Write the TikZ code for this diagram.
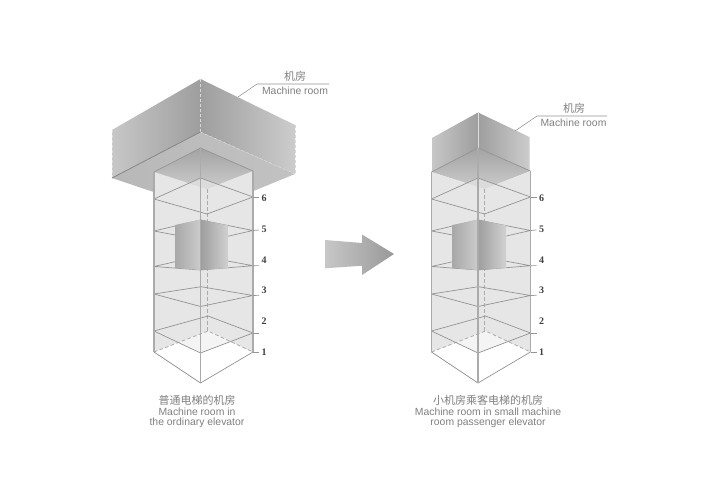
\documentclass[tikz,border=0pt]{standalone}
\usepackage{fontspec}
\setmainfont{Liberation Sans}
\newfontfamily\cjk{Noto Sans CJK SC}
\newfontfamily\numfont{Liberation Serif}
\definecolor{shaftfill}{HTML}{E6E6E6}
\definecolor{floorlow}{HTML}{F4F4F4}
\definecolor{edgeline}{HTML}{949494}
\definecolor{postline}{HTML}{ABABAB}
\definecolor{dashline}{HTML}{ABABAB}
\definecolor{captext}{HTML}{808080}
\tikzset{
  floorline/.style={draw=edgeline,line width=.7pt,line join=round},
  postedge/.style={draw=postline,line width=1.2pt},
  hiddenedge/.style={draw=dashline,line width=.8pt,dash pattern=on 3.5pt off 2.5pt},
  roomdash/.style={draw=white!70!gray,line width=.6pt,dash pattern=on 3pt off 2pt},
  leaderline/.style={draw=gray!85,line width=.55pt},
  floornum/.style={font=\numfont\bfseries\fontsize{10}{10}\selectfont,text=black!75,inner sep=0pt},
  captioncn/.style={font=\cjk\fontsize{11}{12}\selectfont,text=captext,inner sep=0pt},
  captionen/.style={font=\fontsize{10.4}{12}\selectfont,text=captext,inner sep=0pt},
}
\newcommand{\shaftunit}[2]{%
\begin{scope}[shift={(#2,0)}]
  % outline points
  \coordinate (#1tl) at (154,172); \coordinate (#1tt) at (200.5,148);
  \coordinate (#1tr) at (253,171); \coordinate (#1hf) at (207,189);
  \coordinate (#1bl) at (154,352); \coordinate (#1bf) at (200.5,383);
  \coordinate (#1br) at (253,352); \coordinate (#1bb) at (208,331);
  % fills
  \path[top color=black!36,bottom color=black!20] (#1tl) -- (#1tt) -- (#1tr) -- (#1hf) -- cycle;
  \fill[black!14] (189,183.2) -- (200.5,178) -- (218.4,184.5) -- (#1hf) -- cycle;
  \fill[shaftfill] (#1tl) -- (#1hf) -- (#1tr) -- (#1br) -- (#1bb) -- (#1bl) -- cycle;
  \fill[floorlow] (#1bb) -- (230.5,341.5) -- (200.5,353) -- (178,342.6) -- cycle;
  % hidden edges
  \draw[hiddenedge] (207,189) -- (207,331);
  \draw[hiddenedge] (#1bl) -- (#1bb) -- (#1br);
  % floors
  \draw[floorline] (#1tl) -- (#1tt) -- (#1tr);
  \draw[floorline] (154,199) -- (200.5,178) -- (253,197) -- (207,214) -- cycle;
  \draw[floorline] (154,231) -- (200.5,220) -- (253,230.5) -- (207,241) -- cycle;
  \draw[floorline] (154,266.5) -- (200.5,256) -- (253,265.7) -- (200.5,270) -- cycle;
  \draw[floorline] (154,294) -- (201,286.7) -- (253,295.5) -- (200.5,306.5) -- cycle;
  \draw[floorline] (154,331) -- (208,316) -- (253,333) -- (200.5,353) -- cycle;
  \draw[floorline] (#1bl) -- (#1bf) -- (#1br);
  % car
  \path[left color=black!34,right color=black!20] (175,225) -- (200.5,219.5) -- (200.5,270) -- (175,268) -- cycle;
  \path[left color=black!38,right color=black!18] (200.5,219.5) -- (228.5,225.5) -- (228.5,268) -- (200.5,270) -- cycle;
  % posts
  \draw[postedge] (#1tl) -- (#1bl);
  \draw[postedge] (#1tr) -- (#1br);
  \draw[postedge] (#1tt) -- (#1bf);
  % floor numbers
  \node[floornum] (#1n1) at (264,352) {1};
  \node[floornum] (#1n2) at (264,321) {2};
  \node[floornum] (#1n3) at (264,290.5) {3};
  \node[floornum] (#1n4) at (264,260) {4};
  \node[floornum] (#1n5) at (264,229) {5};
  \node[floornum] (#1n6) at (264,198) {6};
  \coordinate (#1e1) at (259,352);
  \coordinate (#1e2) at (259,333);
  \coordinate (#1e3) at (259,295.3);
  \coordinate (#1e4) at (259,265.6);
  \coordinate (#1e5) at (259,230);
  \coordinate (#1e6) at (259,197);
  \coordinate (#1f2) at (253,333);
  \coordinate (#1f3) at (253,295.5);
  \coordinate (#1f4) at (253,265.7);
  \coordinate (#1f5) at (253,230.5);
  \coordinate (#1f6) at (253,197);
  \draw[floorline] (#1br) -- (#1e1);
  \draw[floorline] (#1f2) -- (#1e2);
  \draw[floorline] (#1f3) -- (#1e3);
  \draw[floorline] (#1f4) -- (#1e4);
  \draw[floorline] (#1f5) -- (#1e5);
  \draw[floorline] (#1f6) -- (#1e6);
\end{scope}}
\begin{document}
\begin{tikzpicture}[x=1pt,y=-1pt]
\useasboundingbox (0,0) rectangle (720,500);
\fill[white] (0,0) rectangle (720,500);
% ---- left machine room
\coordinate (a1) at (112,130); \coordinate (a2) at (200.5,79); \coordinate (a3) at (295,125);
\coordinate (a4) at (112,178); \coordinate (a5) at (200.5,132); \coordinate (a6) at (295,174);
\coordinate (a7) at (207,210);
\path[left color=black!22,right color=black!38] (a1) -- (a2) -- (a5) -- (a4) -- cycle;
\path[left color=black!38,right color=black!20] (a2) -- (a3) -- (a6) -- (a5) -- cycle;
\path[left color=black!28,right color=black!24] (a4) -- (a5) -- (a6) -- (a7) -- cycle;
\draw[roomdash] (a1) -- (a4);
\draw[roomdash] (a2) -- (a5);
\draw[roomdash] (a3) -- (a6);
\draw[roomdash] (a5) -- (a6);
\draw[floorline,draw=gray] (a4) -- (a5);
% ---- right machine room
\coordinate (c1) at (432,138); \coordinate (c2) at (478,112.5); \coordinate (c3) at (529.5,137);
\coordinate (c4) at (432,172); \coordinate (c5) at (478,148); \coordinate (c6) at (529.5,171);
\path[left color=black!22,right color=black!38] (c1) -- (c2) -- (c5) -- (c4) -- cycle;
\path[left color=black!38,right color=black!20] (c2) -- (c3) -- (c6) -- (c5) -- cycle;
\draw[white!75!gray,line width=.6pt] (c2) -- (c5);
% ---- shafts
\shaftunit{p}{0}
\shaftunit{q}{277.5}
% ---- labels and leaders
\coordinate (l1) at (238,97); \coordinate (l2) at (257,84); \coordinate (l3) at (329,84);
\draw[leaderline] (l1) -- (l2) -- (l3);
\node[captioncn] (mra) at (295,76.5) {机房};
\node[captionen] (mrb) at (295,90.5) {Machine room};
\coordinate (r1) at (515,131); \coordinate (r2) at (537,116); \coordinate (r3) at (607,116);
\draw[leaderline] (r1) -- (r2) -- (r3);
\node[captioncn] (mrc) at (574,108.5) {机房};
\node[captionen] (mrd) at (573.5,122.5) {Machine room};
% ---- arrow
\path[left color=black!22,right color=black!40] (325,240) -- (362,243) -- (362,234.5) -- (394,254) -- (362,275) -- (362,265.7) -- (325,268.3) -- cycle;
% ---- captions
\node[captioncn] (ca1) at (197,400) {普通电梯的机房};
\node[captionen] (ca2) at (197,412) {Machine room in};
\node[captionen] (ca3) at (197,423) {the ordinary elevator};
\node[captioncn] (cb1) at (488,400) {小机房乘客电梯的机房};
\node[captionen] (cb2) at (488,412) {Machine room in small machine};
\node[captionen] (cb3) at (488,423) {room passenger elevator};
\end{tikzpicture}
\end{document}
